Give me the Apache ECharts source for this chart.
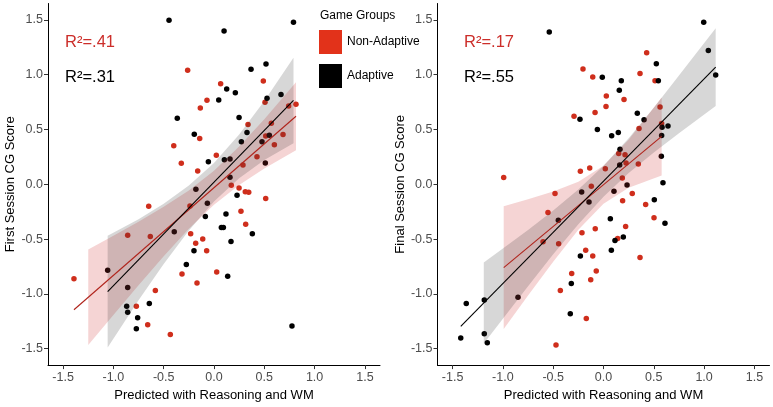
<!DOCTYPE html>
<html>
<head>
<meta charset="utf-8">
<script src="https://cdn.jsdelivr.net/npm/echarts@6/dist/echarts.min.js"></script>
<style>
html,body{margin:0;padding:0;background:#fff;}
#chart{width:773px;height:407px;}
</style>
</head>
<body>
<div id="chart"></div>
<script>
// ---- Data ----
const tickValues = [-1.5, -1.0, -0.5, 0.0, 0.5, 1.0, 1.5];
const groupNames = ['Non-Adaptive', 'Adaptive'];
const xTitle = 'Predicted with Reasoning and WM';
const yTitles = ['First Session CG Score', 'Final Session CG Score'];
const r2Labels = [['R²=.41', 'R²=.31'], ['R²=.17', 'R²=.55']];

// Panel 1: First session
const firstNonAdaptive = [
  [-0.262,1.04],[0.066,0.918],[0.49,0.942],[-0.07,0.767],[-0.136,0.697],[0.507,0.748],[0.742,0.715],[0.815,0.73],
  [0.338,0.545],[0.57,0.557],[-0.142,0.418],[0.514,0.44],[0.686,0.455],[0.6,0.36],[-0.4,0.352],[-0.325,0.191],
  [0.023,0.264],[0.427,0.252],[0.288,0.176],[-0.162,0.121],[0.172,-0.009],[0.249,-0.033],[0.311,-0.067],[0.345,-0.073],
  [0.514,-0.13],[-0.649,-0.2],[-0.239,-0.197],[0.268,-0.245],[0.315,-0.364],[-0.858,-0.464],[-0.633,-0.476],[-0.232,-0.451],
  [-0.112,-0.5],[-0.182,-0.539],[-0.073,-0.606],[0.027,-0.8],[-0.318,-0.818],[-0.169,-0.9],[-0.583,-0.97],[-1.392,-0.861],
  [-0.772,-1.112],[-0.659,-1.282],[-0.434,-1.37]
];
const firstAdaptive = [
  [-0.447,1.497],[0.10,1.40],[0.79,1.48],[0.517,1.097],[0.368,1.05],[0.126,0.87],[0.212,0.836],[0.047,0.77],
  [0.666,0.82],[0.527,0.785],[-0.365,0.603],[0.249,0.609],[-0.196,0.457],[0.328,0.473],[0.272,0.388],[0.477,0.388],
  [0.55,0.448],[-0.056,0.206],[0.103,0.224],[0.159,0.23],[0.51,0.194],[0.159,0.064],[-0.18,-0.045],[0.229,-0.1],
  [-0.066,-0.173],[-0.086,-0.294],[0.119,-0.27],[-0.395,-0.433],[0.073,-0.394],[0.093,-0.394],[0.381,-0.451],[0.169,-0.521],
  [-0.199,-0.606],[-0.275,-0.733],[0.136,-0.839],[-1.057,-0.785],[-0.858,-0.942],[-0.643,-1.088],[-0.868,-1.112],[-0.858,-1.167],
  [-0.759,-1.218],[-0.772,-1.318],[0.775,-1.294]
];
const firstNonAdaptiveFit = [[-1.392,-1.145],[0.815,0.621]];
const firstAdaptiveFit = [[-1.057,-0.979],[0.79,0.765]];
// band rows: [x, lower, upper]
const firstNonAdaptiveBand = [
  [-1.25,-1.466,-0.596],[-1.0,-1.193,-0.469],[-0.75,-0.921,-0.341],[-0.5,-0.656,-0.206],[-0.25,-0.406,-0.056],
  [0,-0.186,0.124],[0.25,-0.006,0.344],[0.5,0.144,0.594],[0.815,0.311,0.931]
];
const firstAdaptiveBand = [
  [-1.057,-1.489,-0.469],[-0.75,-1.059,-0.319],[-0.5,-0.728,-0.178],[-0.25,-0.422,-0.012],[0,-0.156,0.194],
  [0.25,0.055,0.455],[0.5,0.221,0.761],[0.79,0.375,1.155]
];

// Panel 2: Final session
const finalNonAdaptive = [
  [-0.992,0.061],[0.429,1.2],[-0.204,1.052],[-0.107,0.979],[0.363,1.012],[0.512,0.945],[0.028,0.806],[0.204,0.773],
  [0.025,0.709],[-0.084,0.655],[-0.293,0.621],[0.562,0.706],[0.353,0.509],[0.578,0.555],[0.151,0.282],[0.214,0.27],
  [0.224,0.194],[0.346,0.185],[-0.23,0.118],[-0.137,0.148],[0.018,0.142],[0.187,0.058],[-0.121,-0.018],[-0.482,-0.085],
  [0.286,-0.085],[0.19,-0.15],[0.419,-0.185],[0.502,-0.306],[-0.552,-0.258],[0.22,-0.385],[-0.082,-0.406],[-0.214,-0.442],
  [-0.601,-0.524],[-0.446,-0.542],[0.141,-0.494],[-0.177,-0.603],[-0.107,-0.655],[0.363,-0.667],[-0.072,-0.791],[-0.316,-0.815],
  [-0.127,-0.87],[-0.429,-0.97],[-0.171,-1.224],[-0.472,-1.467]
];
const finalAdaptive = [
  [-0.539,1.391],[0.996,1.479],[1.042,1.221],[1.115,0.997],[0.525,1.1],[-0.012,0.976],[0.177,0.945],[0.545,0.945],
  [0.157,0.858],[0.336,0.649],[0.403,0.588],[-0.234,0.594],[-0.061,0.5],[0.081,0.442],[0.147,0.473],[0.582,0.521],
  [0.641,0.533],[0.578,0.445],[0.164,0.321],[0.161,0.176],[0.575,0.255],[0.591,0.015],[0.234,-0.006],[-0.217,-0.07],
  [0.104,-0.064],[0.505,-0.14],[-0.144,-0.161],[-0.449,-0.327],[0.068,-0.315],[0.197,-0.482],[0.114,-0.512],[0.078,-0.603],
  [-0.23,-0.655],[0.611,-0.355],[-0.32,-0.906],[-0.33,-1.182],[-0.85,-1.03],[-1.364,-1.088],[-1.185,-1.055],[-1.419,-1.403],
  [-1.185,-1.364],[-1.155,-1.445]
];
const finalNonAdaptiveFit = [[-0.992,-0.761],[0.578,0.437]];
const finalAdaptiveFit = [[-1.419,-1.297],[1.115,1.069]];
const finalNonAdaptiveBand = [
  [-0.992,-1.321,-0.201],[-0.75,-1.015,-0.137],[-0.5,-0.706,-0.066],[-0.25,-0.414,0.024],[0,-0.177,0.169],
  [0.25,-0.032,0.406],[0.578,0.081,0.793]
];
const finalAdaptiveBand = [
  [-1.19,-1.453,-0.713],[-1.0,-1.226,-0.586],[-0.75,-0.93,-0.416],[-0.5,-0.639,-0.239],[-0.25,-0.364,-0.048],
  [0,-0.114,0.170],[0.25,0.103,0.421],[0.5,0.291,0.699],[0.75,0.466,0.992],[1.115,0.714,1.424]
];

// ---- Styling ----
const FONT = '"Liberation Sans", Arial, Helvetica, sans-serif';
const RED_PT = '#cf2e1c';
const RED_KEY = '#e2321a';
const RED_LINE = '#b0241c';
const RED_TEXT = '#cc2e2a';
const RED_FILL = 'rgba(205,40,40,0.20)';
const GRAY_FILL = 'rgba(40,40,40,0.19)';
const fmt = v => v.toFixed(1);

const grids = [
  {left: 48, top: 3.5, width: 332, height: 363},
  {left: 437.5, top: 3.5, width: 332, height: 363}
];

function xAxisCfg(gi) {
  return {
    type: 'value', gridIndex: gi, min: -1.65, max: 1.65,
    name: xTitle, nameLocation: 'middle', nameGap: 21,
    nameTextStyle: {fontSize: 13, color: '#000', fontFamily: FONT},
    axisLine: {onZero: false, lineStyle: {color: '#000', width: 1}},
    axisTick: {show: true, length: 4, customValues: tickValues, lineStyle: {color: '#333', width: 1}},
    axisLabel: {customValues: tickValues, formatter: fmt, fontSize: 12.5, color: '#4d4d4d', margin: 6, fontFamily: FONT},
    splitLine: {show: false}
  };
}
function yAxisCfg(gi) {
  return {
    type: 'value', gridIndex: gi, min: -1.65, max: 1.65,
    name: yTitles[gi], nameLocation: 'middle', nameGap: 31,
    nameTextStyle: {fontSize: 13, color: '#000', fontFamily: FONT},
    axisLine: {onZero: false, lineStyle: {color: '#000', width: 1}},
    axisTick: {show: true, length: 4, customValues: tickValues, lineStyle: {color: '#333', width: 1}},
    axisLabel: {customValues: tickValues, formatter: fmt, fontSize: 12.5, color: '#4d4d4d', margin: 5, fontFamily: FONT},
    splitLine: {show: false}
  };
}

function bandSeries(gi, rows, fill) {
  return {
    type: 'custom', xAxisIndex: gi, yAxisIndex: gi, coordinateSystem: 'cartesian2d',
    data: rows, encode: {x: 0, y: [1, 2]}, z: 3, silent: true,
    renderItem: function (params, api) {
      if (params.dataIndex !== 0) return {type: 'group', children: []};
      const up = rows.map(r => api.coord([r[0], r[2]]));
      const lo = rows.slice().reverse().map(r => api.coord([r[0], r[1]]));
      return {type: 'polygon', shape: {points: up.concat(lo)}, style: {fill: fill, stroke: null}};
    }
  };
}
function scatterSeries(gi, name, data, color) {
  return {
    type: 'scatter', name: name, xAxisIndex: gi, yAxisIndex: gi, data: data,
    symbolSize: 5.5, itemStyle: {color: color, opacity: 1}, z: 2, silent: true
  };
}
function fitSeries(gi, data, color) {
  return {
    type: 'line', xAxisIndex: gi, yAxisIndex: gi, data: data, symbol: 'none',
    lineStyle: {color: color, width: 1.1}, z: 4, silent: true
  };
}

const chart = echarts.init(document.getElementById('chart'), null, {renderer: 'canvas'});
chart.setOption({
  animation: false,
  backgroundColor: '#fff',
  textStyle: {fontFamily: FONT},
  grid: grids,
  xAxis: [xAxisCfg(0), xAxisCfg(1)],
  yAxis: [yAxisCfg(0), yAxisCfg(1)],
  legend: {
    orient: 'vertical', left: 319, top: 30, padding: 0,
    itemWidth: 23, itemHeight: 24, itemGap: 10, icon: 'rect', selectedMode: false,
    textStyle: {fontSize: 12, color: '#000', fontFamily: FONT},
    data: [
      {name: groupNames[0], itemStyle: {color: RED_KEY, opacity: 1}},
      {name: groupNames[1], itemStyle: {color: '#000', opacity: 1}}
    ]
  },
  graphic: [
    {type: 'text', left: 320, top: 10, style: {text: 'Game Groups', fontSize: 12, fill: '#000', fontFamily: FONT}},
    {type: 'text', left: 65, top: 34, style: {text: r2Labels[0][0], fontSize: 16.5, fill: RED_TEXT, fontFamily: FONT}},
    {type: 'text', left: 65, top: 69, style: {text: r2Labels[0][1], fontSize: 16.5, fill: '#000', fontFamily: FONT}},
    {type: 'text', left: 464, top: 34, style: {text: r2Labels[1][0], fontSize: 16.5, fill: RED_TEXT, fontFamily: FONT}},
    {type: 'text', left: 464, top: 69, style: {text: r2Labels[1][1], fontSize: 16.5, fill: '#000', fontFamily: FONT}}
  ],
  series: [
    scatterSeries(0, groupNames[0], firstNonAdaptive, RED_PT),
    scatterSeries(0, groupNames[1], firstAdaptive, '#000'),
    bandSeries(0, firstNonAdaptiveBand, RED_FILL),
    bandSeries(0, firstAdaptiveBand, GRAY_FILL),
    fitSeries(0, firstNonAdaptiveFit, RED_LINE),
    fitSeries(0, firstAdaptiveFit, '#000'),
    scatterSeries(1, groupNames[0], finalNonAdaptive, RED_PT),
    scatterSeries(1, groupNames[1], finalAdaptive, '#000'),
    bandSeries(1, finalNonAdaptiveBand, RED_FILL),
    bandSeries(1, finalAdaptiveBand, GRAY_FILL),
    fitSeries(1, finalNonAdaptiveFit, RED_LINE),
    fitSeries(1, finalAdaptiveFit, '#000')
  ]
});
</script>
</body>
</html>
